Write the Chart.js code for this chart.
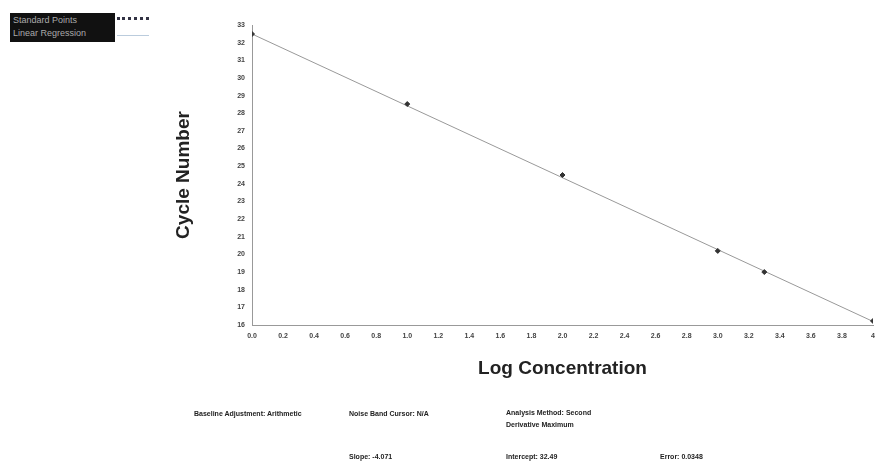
<!DOCTYPE html>
<html>
<head>
<meta charset="utf-8">
<script src="https://cdn.jsdelivr.net/npm/chart.js@4.4.0/dist/chart.umd.min.js"></script>
<style>
  body { margin: 0; background: #fff; font-family: "Liberation Sans", Arial, sans-serif; }
  #wrap { position: relative; width: 878px; height: 470px; }
  #myChart { position: absolute; left: 0; top: 0; }
  .note { position: absolute; font-size: 7px; font-weight: bold; color: #222; white-space: nowrap; line-height: 12px; }
  #legend { position: absolute; left: 10px; top: 13px; width: 105px; height: 29px; background: #111;
            color: #aaa; font-size: 9px; line-height: 13px; padding: 1px 0 0 3px; box-sizing: border-box; }
  #lgPts { position: absolute; left: 117px; top: 17px; width: 32px; height: 0; border-top: 3px dotted #334; }
  #lgLine { position: absolute; left: 117px; top: 35px; width: 32px; height: 0; border-top: 1px solid #bcd; }
</style>
</head>
<body>
<div id="wrap">
  <canvas id="myChart" width="878" height="470"></canvas>
  <div id="legend">Standard Points<br>Linear Regression</div>
  <div id="lgPts"></div>
  <div id="lgLine"></div>
  <div class="note" style="left:194px;top:408px">Baseline Adjustment: Arithmetic</div>
  <div class="note" style="left:349px;top:408px">Noise Band Cursor: N/A</div>
  <div class="note" style="left:506px;top:407px">Analysis Method: Second<br>Derivative Maximum</div>
  <div class="note" style="left:349px;top:451px">Slope: -4.071</div>
  <div class="note" style="left:506px;top:451px">Intercept: 32.49</div>
  <div class="note" style="left:660px;top:451px">Error: 0.0348</div>
</div>
<script>
// standard points (log concentration vs cycle number)
const logConc = [0, 1, 2, 3, 3.3, 4];
const cycles = [32.49, 28.52, 24.5, 20.2, 19.0, 16.23];
// regression line end points
const fitX = [0, 4];
const fitY = [32.49, 16.2];

const ctx = document.getElementById('myChart').getContext('2d');
const myChart = new Chart(ctx, {
    type: 'scatter',
    data: {
        datasets: [{
            label: 'Standard Points',
            data: logConc.map((x, i) => ({x: x, y: cycles[i]})),
            backgroundColor: '#333',
            borderColor: '#333',
            pointStyle: 'rectRot',
            pointRadius: 2.5,
            order: 0
        }, {
            label: 'Linear Regression',
            type: 'line',
            data: fitX.map((x, i) => ({x: x, y: fitY[i]})),
            borderColor: '#999',
            borderWidth: 1,
            pointRadius: 0,
            order: 1
        }]
    },
    options: {
        responsive: false,
        animation: false,
        layout: { padding: { left: 0, right: 3, top: 25, bottom: 0 } },
        plugins: { legend: { display: false }, tooltip: { enabled: false } },
        scales: {
            x: {
                type: 'linear',
                min: 0,
                max: 4,
                grid: { display: false, drawTicks: true, tickLength: 4, color: '#aaa' },
                border: { color: '#999' },
                ticks: {
                    stepSize: 0.2,
                    maxRotation: 0,
                    autoSkip: false,
                    color: '#444',
                    font: { size: 7, weight: 'bold' },
                    callback: v => (v === 4 ? '4' : v.toFixed(1))
                },
                title: {
                    display: true,
                    text: 'Log Concentration',
                    color: '#222',
                    font: { size: 19, weight: 'bold' },
                    padding: { top: 0, bottom: 90 }
                },
                afterFit: s => { s.height = 145; }
            },
            y: {
                min: 16,
                max: 33,
                grid: { display: false, drawTicks: true, tickLength: 4, color: '#aaa' },
                border: { color: '#999' },
                ticks: {
                    stepSize: 1,
                    autoSkip: false,
                    color: '#444',
                    font: { size: 7, weight: 'bold' }
                },
                title: {
                    display: true,
                    text: 'Cycle Number',
                    color: '#222',
                    font: { size: 19, weight: 'bold' },
                    padding: { top: 172, bottom: 0 }
                },
                afterFit: s => { s.width = 252; }
            }
        }
    }
});
</script>
</body>
</html>
